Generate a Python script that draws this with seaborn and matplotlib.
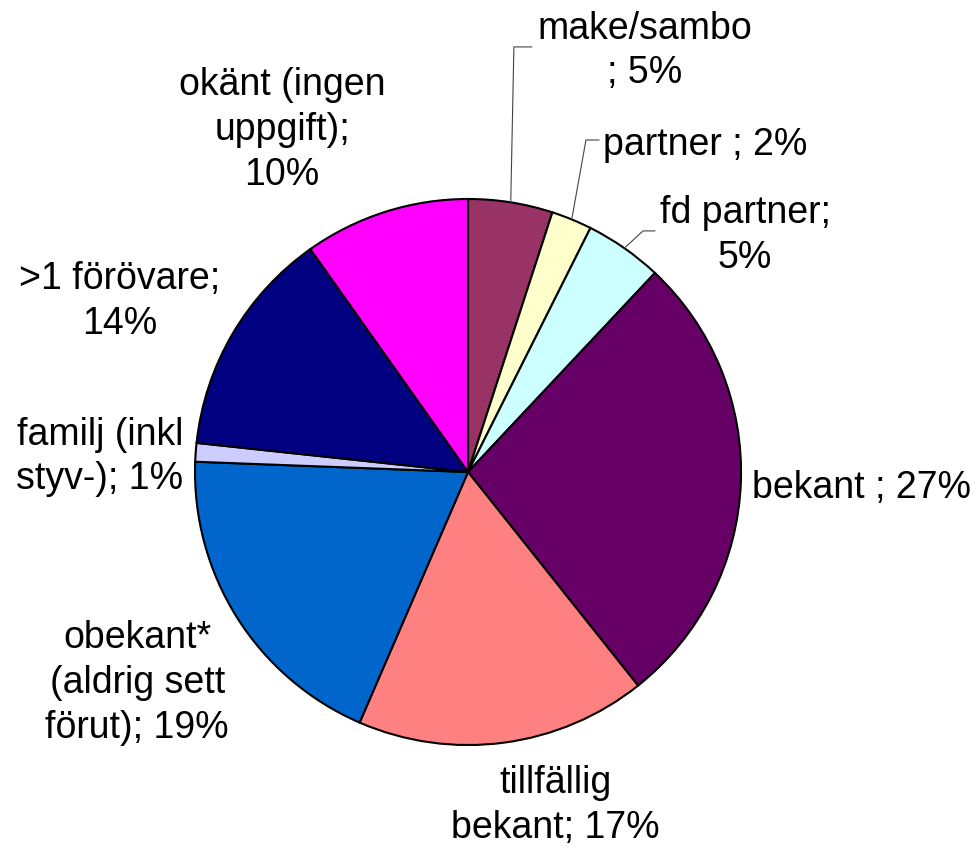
import numpy as np
import matplotlib
matplotlib.use("Agg")
import matplotlib.pyplot as plt
import seaborn as sns

# Data (andel i procent)
categories = ["make/sambo", "partner", "fd partner", "bekant", "tillfällig bekant",
              "obekant* (aldrig sett förut)", "familj (inkl styv-)",
              ">1 förövare", "okänt (ingen uppgift)"]
values = [5.0, 2.4, 4.6, 27.3, 17.2, 19.1, 1.1, 13.5, 9.8]
label_texts = ["make/sambo\n; 5%", "partner ; 2%", "fd partner;\n5%", "bekant ; 27%",
               "tillfällig\nbekant; 17%", "obekant*\n(aldrig sett\nförut); 19%",
               "familj (inkl\nstyv-); 1%", ">1 förövare;\n14%", "okänt (ingen\nuppgift);\n10%"]
colors = ["#993366", "#FFFFCC", "#CCFFFF", "#660066", "#FF8080",
          "#0066CC", "#CCCCFF", "#000080", "#FF00FF"]

# Layout: label centres (data coords, pie radius = 1)
label_pos = [(0.648, 1.542), (0.868, 1.198), (1.015, 0.868), (1.443, -0.059),
             (0.319, -1.223), (-1.212, -0.773), (-1.348, 0.055),
             (-1.275, 0.623), (-0.681, 1.253)]
# leader lines for the small slices: (elbow, end)
leaders = {0: ((0.168, 1.557), (0.234, 1.557)),
           1: ((0.432, 1.216), (0.480, 1.216)),
           2: ((0.641, 0.883), (0.685, 0.883))}

sns.set_theme(style="white")
plt.rcParams["font.family"] = ["Liberation Sans", "DejaVu Sans"]

fig = plt.figure(figsize=(9.77, 8.5), dpi=100)
ax = fig.add_axes([0.1996, 0.1235, 0.5589, 0.6424])

wedges, _ = ax.pie(values, colors=colors, startangle=90, counterclock=False,
                   radius=1.0, wedgeprops=dict(edgecolor="black", linewidth=1.5))
ax.set_xlim(-1, 1)
ax.set_ylim(-1, 1)
ax.set_aspect("equal")
ax.axis("off")

for i, (txt, (x, y)) in enumerate(zip(label_texts, label_pos)):
    ax.text(x, y, txt, ha="center", va="center", fontsize=27,
            linespacing=1.32, color="black", clip_on=False)

for i, (elbow, end) in leaders.items():
    w = wedges[i]
    mid = np.deg2rad((w.theta1 + w.theta2) / 2)
    start = (np.cos(mid), np.sin(mid))
    ax.plot([start[0], elbow[0], end[0]], [start[1], elbow[1], end[1]],
            color="#444444", linewidth=0.8, clip_on=False)

fig.savefig("out.png", dpi=100, facecolor="white")
